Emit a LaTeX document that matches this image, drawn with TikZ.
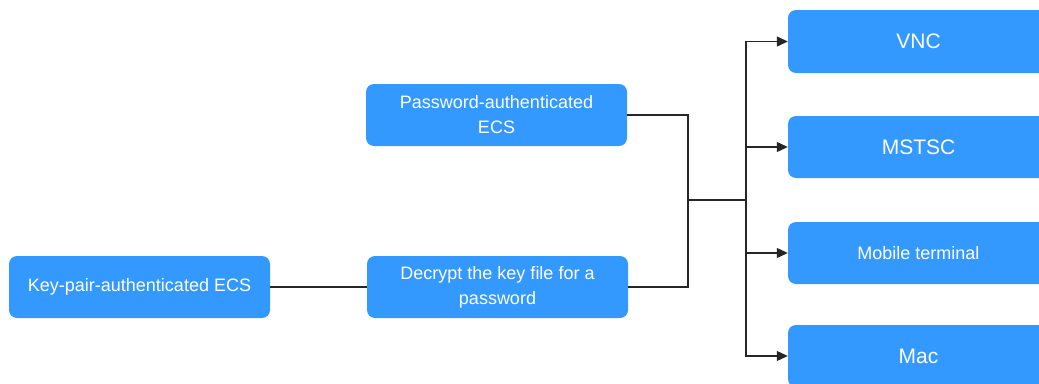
\documentclass[tikz,border=0pt]{standalone}
\usepackage{fontspec}
\setmainfont{Liberation Sans}
\usetikzlibrary{arrows.meta}
\definecolor{boxblue}{RGB}{51,153,255}
\tikzset{
  bluebox/.style={fill=boxblue, draw=none, rounded corners=8pt, text=white,
    minimum width=261pt, minimum height=62pt, inner sep=0pt, align=center,
    font=\fontsize{18pt}{25pt}\selectfont},
  bigtext/.style={font=\fontsize{21pt}{25pt}\selectfont},
  conn/.style={draw=black!85, line width=1.1pt},
  arr/.style={conn, -{Triangle[length=11pt,width=10pt]}}
}
\begin{document}
\begin{tikzpicture}[x=1pt,y=-1pt]
\useasboundingbox (0,0) rectangle (1039,383);
\begin{scope}
\clip (0,0) rectangle (1039,383);
\node[bluebox] (key) at (139.5,287) {Key-pair-authenticated ECS};
\node[bluebox] (pw) at (496.5,115) {Password-authenticated\\ECS};
\node[bluebox] (dec) at (497.5,287) {Decrypt the key file for a\\password};
\node[bluebox, bigtext, minimum height=63pt] (vnc) at (918.5,41.5) {VNC};
\node[bluebox, bigtext] (mstsc) at (918.5,147) {MSTSC};
\node[bluebox] (mob) at (918.5,253) {Mobile terminal};
\node[bluebox, bigtext] (mac) at (918.5,356) {Mac};
\coordinate (j1) at (688,200);
\coordinate (j2) at (746,200);
\draw[conn] (key.east) -- (dec.west);
\draw[conn] (pw.east) -| (j1) |- (dec.east);
\draw[conn] (j1) -- (j2);
\draw[arr] (j2) |- (vnc.west);
\draw[arr] (j2) |- (mstsc.west);
\draw[arr] (j2) |- (mob.west);
\draw[arr] (j2) |- (mac.west);
\end{scope}
\end{tikzpicture}
\end{document}
